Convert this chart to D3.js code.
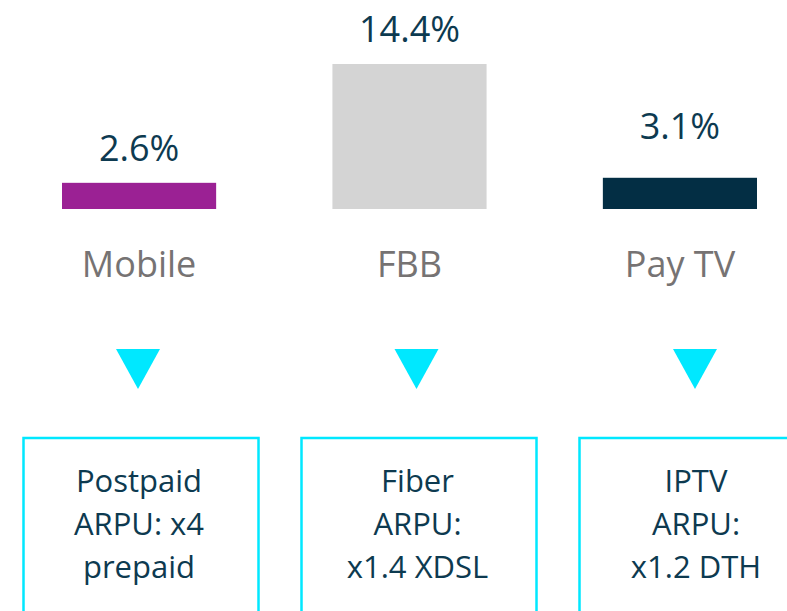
<!DOCTYPE html>
<html>
<head>
<meta charset="utf-8">
<script src="https://cdn.jsdelivr.net/npm/d3@7"></script>
<style>
  body { margin: 0; background: #fff; }
  svg { display: block; font-family: "Open Sans", sans-serif; }
</style>
</head>
<body>
<div id="chart"></div>
<script>
// data
var categories = ["Mobile", "FBB", "Pay TV"];
var growth = [2.6, 14.4, 3.1];
var valueLabels = ["2.6%", "14.4%", "3.1%"];
var barColors = ["#9b2194", "#d4d4d4", "#032e44"];
var boxLines = [
  ["Postpaid", "ARPU: x4", "prepaid"],
  ["Fiber", "ARPU:", "x1.4 XDSL"],
  ["IPTV", "ARPU:", "x1.2 DTH"]
];

var width = 787, height = 611;
var navy = "#0d3a50", grey = "#767373", cyan = "#00e8ff";

var svg = d3.select("#chart").append("svg")
  .attr("width", width)
  .attr("height", height);

// bars
var x = d3.scaleBand().domain(categories).range([62, 757]).paddingInner(0.43).paddingOuter(0);
var y = d3.scaleLinear().domain([0, 14.4]).range([209, 64]);

svg.append("g").selectAll("rect")
  .data(categories)
  .join("rect")
  .attr("x", d => x(d))
  .attr("y", (d, i) => y(growth[i]))
  .attr("width", x.bandwidth())
  .attr("height", (d, i) => y(0) - y(growth[i]))
  .attr("fill", (d, i) => barColors[i]);

// value labels (Pay TV label sits higher in the original)
var labelGap = [22, 22, 39];
svg.append("g").selectAll("text")
  .data(categories)
  .join("text")
  .attr("x", d => x(d) + x.bandwidth() / 2)
  .attr("y", (d, i) => y(growth[i]) - labelGap[i])
  .attr("text-anchor", "middle")
  .attr("font-size", 36)
  .attr("fill", navy)
  .text((d, i) => valueLabels[i]);

// category labels
svg.append("g").selectAll("text")
  .data(categories)
  .join("text")
  .attr("x", d => x(d) + x.bandwidth() / 2)
  .attr("y", 277)
  .attr("text-anchor", "middle")
  .attr("font-size", 36)
  .attr("fill", grey)
  .text(d => d);

// lower row: arrows + boxes
var px = d3.scalePoint().domain(categories).range([138, 695]);
var bx = d3.scalePoint().domain(categories).range([141, 697]);

svg.append("g").selectAll("path")
  .data(categories)
  .join("path")
  .attr("d", d => {
    var cx = px(d);
    return "M" + (cx - 22) + ",349L" + (cx + 22) + ",349L" + cx + ",389Z";
  })
  .attr("fill", cyan);

var boxW = 235;
var boxes = svg.append("g").selectAll("g")
  .data(categories)
  .join("g");

boxes.append("rect")
  .attr("x", d => bx(d) - boxW / 2)
  .attr("y", 438)
  .attr("width", boxW)
  .attr("height", 200)
  .attr("fill", "none")
  .attr("stroke", cyan)
  .attr("stroke-width", 2.5);

boxes.append("text")
  .attr("text-anchor", "middle")
  .attr("font-size", 31)
  .attr("fill", navy)
  .selectAll("tspan")
  .data((d, i) => boxLines[i].map(t => ({ t: t, cx: px(d) + 1 })))
  .join("tspan")
  .attr("x", d => d.cx)
  .attr("y", (d, j) => 492 + j * 43)
  .text(d => d.t);
</script>
</body>
</html>
